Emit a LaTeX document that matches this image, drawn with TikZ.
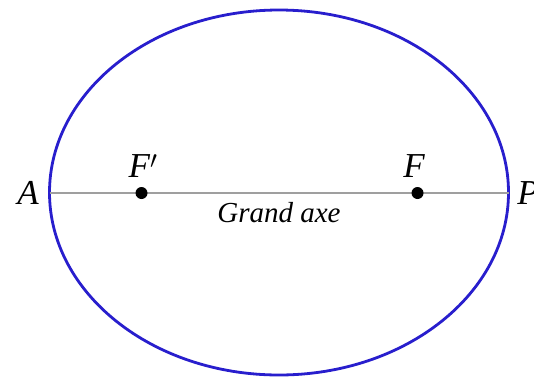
\documentclass[tikz,border=0pt]{standalone}
\usepackage{fontspec}
\setmainfont{Liberation Serif}

\tikzset{
  orbit/.style={draw={rgb,255:red,40;green,30;blue,205},line width=2.8pt},
  axe/.style={draw=gray!75,line width=1.3pt},
  foyer/.style={circle,fill=black,inner sep=0pt,minimum size=12pt},
  lbl/.style={inner sep=0pt,font=\fontsize{35}{35}\selectfont\itshape},
  legende/.style={inner sep=0pt,font=\fontsize{29}{29}\selectfont\itshape}
}

\begin{document}
\begin{tikzpicture}[x=1pt,y=-1pt]
\useasboundingbox (0,0) rectangle (534,378);
\fill[white] (0,0) rectangle (534,378);
% ellipse and major axis
\draw[orbit] (279,192.5) ellipse (229.5 and 182.5);
\coordinate (aph) at (49.5,193);
\coordinate (per) at (508.5,193);
\draw[axe] (aph) -- (per);
% foci
\node[foyer] (f2) at (141.5,193) {};
\node[foyer] (f1) at (417.5,193) {};
% labels
\node[lbl] (A) at (28,193) {A};
\node[lbl] (P) at (528,193) {P};
\node[lbl] (F2) at (143,166) {F$'$};
\node[lbl] (F1) at (414,166) {F};
\node[legende] (ga) at (279,213) {Grand axe};
\end{tikzpicture}
\end{document}
